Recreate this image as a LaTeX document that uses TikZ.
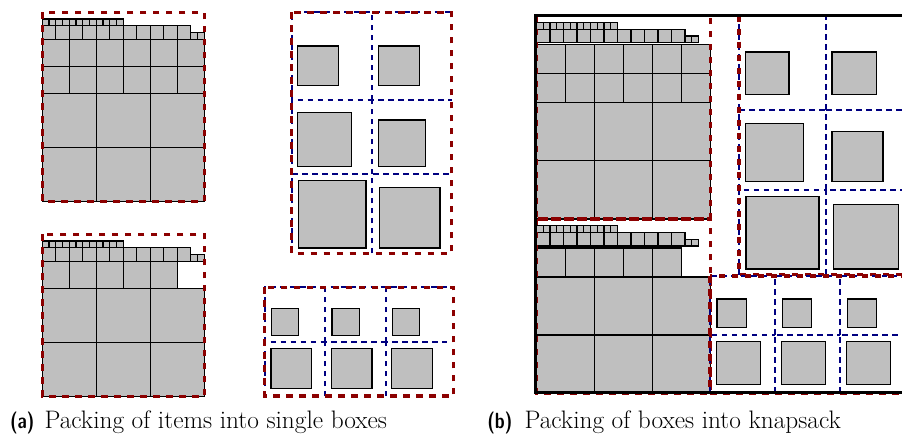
\documentclass[tikz,border=0pt]{standalone}
\usepackage{fontspec}
\definecolor{itemgray}{RGB}{191,191,191}
\definecolor{boxred}{RGB}{140,0,0}
\definecolor{cellblue}{RGB}{0,0,128}
\tikzset{
  item/.style={fill=itemgray, draw=black, line width=1.3pt},
  redbox/.style={draw=boxred, line width=3.4pt, dash pattern=on 6.5pt off 6.5pt},
  bluecell/.style={draw=cellblue, line width=2pt, dash pattern=on 5.5pt off 4.5pt},
  knap/.style={draw=black, line width=3.2pt},
  captag/.style={anchor=base west, inner sep=0pt, xscale=0.8, transform shape, font=\sffamily\bfseries\fontsize{22}{26}\selectfont},
  captext/.style={anchor=base west, inner sep=0pt, font=\fontsize{25.3}{30}\selectfont},
  toprows/.pic={
    \foreach \i in {0,...,11} \path[item] ({\i*6.75},6.75) rectangle ++(6.75,6.75);
    \foreach \i in {0,...,10} \path[item] ({\i*13.5},13.5) rectangle ++(13.5,13.5);
    \foreach \i in {22,23} \path[item] ({\i*6.75},20.25) rectangle ++(6.75,6.75);
  },
  boxone/.pic={
    \pic at (0,0) {toprows};
    \foreach \r in {0,1} \foreach \i in {0,...,5} \path[item] ({\i*27},{27+\r*27}) rectangle ++(27,27);
    \foreach \r in {0,1} \foreach \i in {0,1,2} \path[item] ({\i*54},{81+\r*54}) rectangle ++(54,54);
    \path[redbox] (0,0) rectangle (162,189);
  },
  boxtwo/.pic={
    \pic at (0,0) {toprows};
    \foreach \i in {0,...,4} \path[item] ({\i*27},27) rectangle ++(27,27);
    \foreach \r in {0,1} \foreach \i in {0,1,2} \path[item] ({\i*54},{54+\r*54}) rectangle ++(54,54);
    \path[redbox] (0,0) rectangle (162,162);
  },
  boxthree/.pic={
    \path[item] (6,33.7) rectangle ++(40.5,39.7);
    \path[item] (86.6,33.7) rectangle ++(41,39.7);
    \path[item] (6,100.4) rectangle ++(54,54);
    \path[item] (86.6,107.7) rectangle ++(47.4,46.7);
    \path[item] (6.6,168.4) rectangle ++(67.7,67.3);
    \path[item] (87.6,175.4) rectangle ++(60.7,60.3);
    \path[bluecell] (0,87.7) -- (0,0) -- (80.6,0);
    \path[bluecell] (80.6,87.7) -- (80.6,0) -- (160,0);
    \path[bluecell] (0,161.7) -- (0,87.7) -- (80.6,87.7);
    \path[bluecell] (80.6,161.7) -- (80.6,87.7) -- (160,87.7);
    \path[bluecell] (0,241) -- (0,161.7) -- (80.6,161.7);
    \path[bluecell] (80.6,241) -- (80.6,161.7) -- (160,161.7);
    \path[redbox] (0,0) rectangle (160,241);
  },
  boxfour/.pic={
    \foreach \x in {6.6,67.3,127.6} \path[item] (\x,21.4) rectangle ++(27.2,26.8);
    \foreach \x in {6.3,66.6,127} \path[item] (\x,61) rectangle ++(40.6,40);
    \foreach \x in {0,60.6,121.3} {
      \path[bluecell] (\x,54.7) -- (\x,0) -- ({\x+60.7},0);
      \path[bluecell] (\x,108.7) -- (\x,54.7) -- ({\x+60.7},54.7);
    }
    \path[redbox] (0,0) rectangle (188.6,108.7);
  },
}
\begin{document}
\begin{tikzpicture}[x=1pt,y=-1pt]
\useasboundingbox (0,0) rectangle (902,434);
\clip (0,0) rectangle (902,434);
% (a) single boxes
\pic (a1) at (42.3,12.3) {boxone};
\pic (a2) at (42.3,234.3) {boxtwo};
\pic (a3) at (291.7,12.3) {boxthree};
\pic (a4) at (264.7,287.3) {boxfour};
% (b) knapsack
\pic[scale=1.075] (b1) at (536.5,15.7) {boxone};
\pic[scale=1.075] (b2) at (536.5,218.9) {boxtwo};
\pic[scale=1.075] (b3) at (739,15.7) {boxthree};
\pic[scale=1.075] (b4) at (710,276) {boxfour};
\draw[knap] (912,15.7) -- (535.3,15.7) -- (535.3,392.7) -- (912,392.7);
% captions
\node[captag] (capa) at (10,428) {(a)};
\node[captext] (capatext) at (44.3,428) {Packing of items into single boxes};
\node[captag] (capb) at (487.3,428) {(b)};
\node[captext] (capbtext) at (524.3,428) {Packing of boxes into knapsack};
\end{tikzpicture}
\end{document}
